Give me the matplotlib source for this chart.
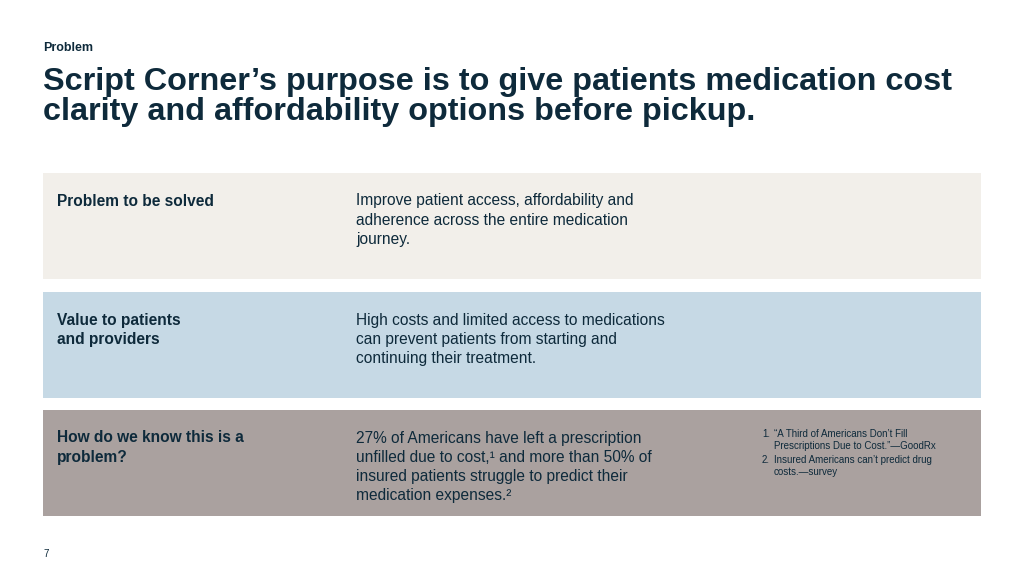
import matplotlib
matplotlib.use("Agg")
import matplotlib.pyplot as plt
from matplotlib.patches import Rectangle

plt.rcParams['font.family'] = ['Liberation Sans', 'DejaVu Sans']

eyebrow = "Problem"
title_lines = ["Script Corner’s purpose is to give patients medication cost",
               "clarity and affordability options before pickup."]
row_labels = ["Problem to be solved", "Value to patients\nand providers", "How do we know this is a\nproblem?"]
row_texts = [
    "Improve patient access, affordability and\nadherence across the entire medication\njourney.",
    "High costs and limited access to medications\ncan prevent patients from starting and\ncontinuing their treatment.",
    "27% of Americans have left a prescription\nunfilled due to cost,¹ and more than 50% of\ninsured patients struggle to predict their\nmedication expenses.²",
]
row_colors = ["#f2efea", "#c6d9e5", "#aaa19f"]
footnotes = ["1.", "“A Third of Americans Don’t Fill\nPrescriptions Due to Cost.”—GoodRx",
             "2.", "Insured Americans can’t predict drug\ncosts.—survey"]
page_number = "7"

navy = "#0e2a3b"

fig = plt.figure(figsize=(10.24, 5.76), dpi=100)
ax = fig.add_axes([0, 0, 1, 1])
ax.set_xlim(0, 1024)
ax.set_ylim(576, 0)
ax.axis('off')

ax.text(43, 48, eyebrow, fontsize=9, fontweight='bold', color=navy, va='center')
ax.text(43, 97, "\n".join(title_lines), fontsize=23.3, fontweight='bold', color=navy,
        va='center', linespacing=0.97)

row_tops = [173, 292, 410]
row_h = 106
for top, col, lab, txt in zip(row_tops, row_colors, row_labels, row_texts):
    ax.add_patch(Rectangle((43, top), 938, row_h, facecolor=col, edgecolor='none'))
    ax.text(57, top + 20.5, lab, fontsize=11.2, fontweight='bold', color=navy, va='top',
            linespacing=1.35)
    ax.text(356, top + 20.5, txt, fontsize=11.2, color=navy, va='top', linespacing=1.35)

# footnotes
ax.text(762, 429, footnotes[0], fontsize=7, color=navy, va='top')
ax.text(774, 429, footnotes[1], fontsize=7, color=navy, va='top', linespacing=1.2)
ax.text(762, 455, footnotes[2], fontsize=7, color=navy, va='top')
ax.text(774, 455, footnotes[3], fontsize=7, color=navy, va='top', linespacing=1.2)

ax.text(43, 554, page_number, fontsize=7, color=navy, va='center')

fig.savefig("out.png", dpi=100, facecolor='white')
